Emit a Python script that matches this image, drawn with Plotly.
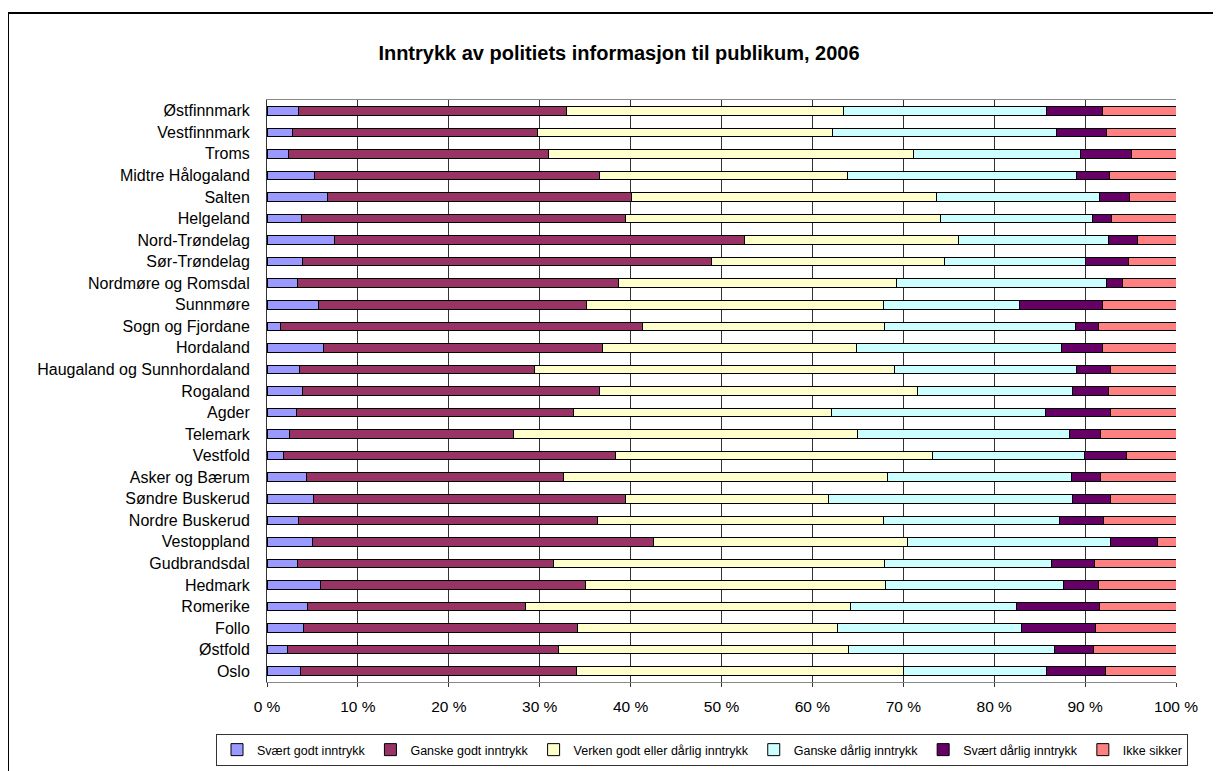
import plotly.graph_objects as go

categories = ["Østfinnmark", "Vestfinnmark", "Troms", "Midtre Hålogaland", "Salten",
              "Helgeland", "Nord-Trøndelag", "Sør-Trøndelag", "Nordmøre og Romsdal",
              "Sunnmøre", "Sogn og Fjordane", "Hordaland", "Haugaland og Sunnhordaland",
              "Rogaland", "Agder", "Telemark", "Vestfold", "Asker og Bærum",
              "Søndre Buskerud", "Nordre Buskerud", "Vestoppland", "Gudbrandsdal",
              "Hedmark", "Romerike", "Follo", "Østfold", "Oslo"]

svaert_godt = [3.5, 2.8, 2.4, 5.2, 6.7, 3.8, 7.4, 3.9, 3.4, 5.7, 1.5, 6.2, 3.6, 3.9,
               3.2, 2.5, 1.8, 4.3, 5.1, 3.5, 5.0, 3.3, 5.9, 4.5, 4.0, 2.3, 3.7]
ganske_godt = [29.5, 27.0, 28.6, 31.4, 33.4, 35.6, 45.1, 45.0, 35.3, 29.5, 39.8, 30.7, 25.8, 32.6,
               30.5, 24.6, 36.5, 28.4, 34.4, 32.9, 37.6, 28.2, 29.1, 23.9, 30.2, 29.8, 30.4]
verken = [30.4, 32.4, 40.1, 27.3, 33.5, 34.7, 23.6, 25.7, 30.6, 32.7, 26.6, 27.9, 39.6, 35.0,
          28.5, 37.8, 34.9, 35.6, 22.3, 31.4, 27.9, 36.4, 33.0, 35.8, 28.6, 31.9, 35.9]
ganske_daarlig = [22.3, 24.6, 18.4, 25.1, 18.0, 16.7, 16.5, 15.5, 23.0, 15.0, 21.0, 22.6, 20.0, 17.0,
                  23.5, 23.3, 16.7, 20.3, 26.9, 19.4, 22.4, 18.4, 19.5, 18.3, 20.2, 22.6, 15.8]
svaert_daarlig = [6.2, 5.5, 5.6, 3.7, 3.3, 2.1, 3.2, 4.8, 1.8, 9.1, 2.6, 4.5, 3.7, 4.0,
                  7.2, 3.4, 4.7, 3.2, 4.2, 4.8, 5.2, 4.7, 3.9, 9.1, 8.1, 4.3, 6.4]
ikke_sikker = [8.1, 7.7, 4.9, 7.3, 5.1, 7.1, 4.2, 5.2, 5.9, 8.1, 8.5, 8.1, 7.2, 7.4,
               7.2, 8.3, 5.4, 8.3, 7.2, 8.0, 2.0, 9.0, 8.5, 8.4, 8.9, 9.1, 7.8]

series_names = ["Svært godt inntrykk", "Ganske godt inntrykk",
                "Verken godt eller dårlig inntrykk", "Ganske dårlig inntrykk",
                "Svært dårlig inntrykk", "Ikke sikker"]
series_values = [svaert_godt, ganske_godt, verken, ganske_daarlig, svaert_daarlig, ikke_sikker]
colors = ["#9999FF", "#993366", "#FFFFCC", "#CCFFFF", "#660066", "#FF8080"]

FONT = "Liberation Sans, Arial, sans-serif"

fig = go.Figure()
for name, vals, col in zip(series_names, series_values, colors):
    fig.add_trace(go.Bar(
        y=categories, x=vals, name=name, orientation="h",
        marker=dict(color=col, line=dict(color="#000000", width=1)),
    ))

# page body has an 8px margin; figure coordinates = page coordinates - 8
OFF = 8
W, H = 1221 - OFF, 771 - OFF
L, R, T, B = 267 - OFF, 1176 - OFF, 100 - OFF, 682 - OFF

def px(x):
    return (x - OFF - L) / (R - L)

def py(y):
    return (B - (y - OFF)) / (B - T)

fig.update_layout(
    width=W, height=H,
    barmode="stack", barnorm="percent", bargap=0.6,
    margin=dict(l=L, r=W - R, t=T, b=H - B, pad=0, autoexpand=False),
    paper_bgcolor="white", plot_bgcolor="white",
    font=dict(family=FONT, size=13, color="black"),
    title=dict(text="<b>Inntrykk av politiets informasjon til publikum, 2006</b>",
               x=(619 - OFF) / W, xref="container", xanchor="center",
               y=1 - (53 - OFF) / H, yref="container", yanchor="middle",
               font=dict(family=FONT, size=20, color="black")),
    legend=dict(orientation="h", x=px(216), xanchor="left", y=py(750), yanchor="middle",
                bordercolor="#333333", borderwidth=1, font=dict(family=FONT, size=12.5),
                itemwidth=30, tracegroupgap=0, traceorder="normal", bgcolor="white"),
    showlegend=True,
)

fig.update_xaxes(range=[0, 100], dtick=10, ticksuffix=" %", showgrid=True,
                 gridcolor="#333333", gridwidth=1, showline=True, linecolor="#888888",
                 linewidth=1, mirror=True, ticks="outside", ticklen=4, tickcolor="#333333",
                 zeroline=False, tickfont=dict(family=FONT, size=15.5),
                 ticklabelstandoff=6, fixedrange=True)
fig.update_yaxes(autorange="reversed", showline=True, linecolor="#333333", linewidth=1,
                 ticks="", showgrid=False, tickfont=dict(family=FONT, size=16),
                 ticklabelstandoff=13, fixedrange=True)

# outer chart border (top and left edges visible)
fig.add_shape(type="line", xref="paper", yref="paper", x0=px(8), x1=px(1240),
              y0=py(13), y1=py(13), line=dict(color="black", width=2))
fig.add_shape(type="line", xref="paper", yref="paper", x0=px(8), x1=px(8),
              y0=py(13), y1=py(790), line=dict(color="black", width=2))

fig.write_html("out.html")
